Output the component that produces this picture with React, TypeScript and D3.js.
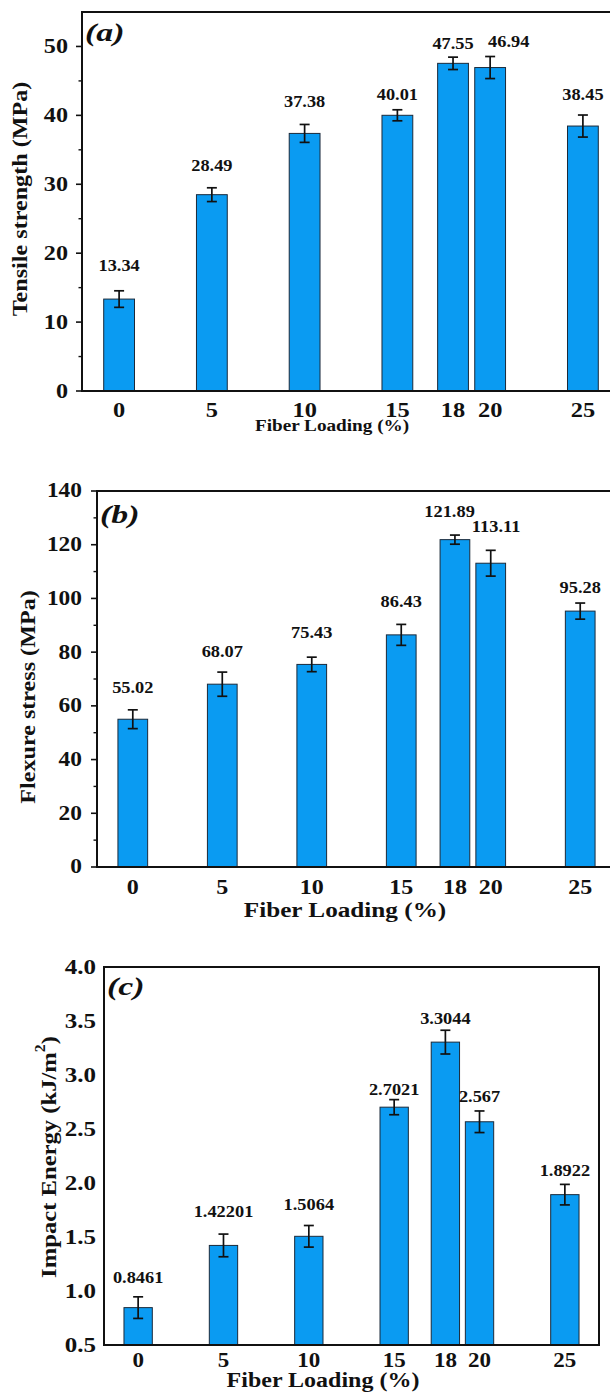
import React from 'react';
import * as d3 from 'd3';

// ---------- data ----------
const fiberLoading = [0, 5, 10, 15, 18, 20, 25];
const xTickLabels = ['0', '5', '10', '15', '18', '20', '25'];

const tensile = [13.34, 28.49, 37.38, 40.01, 47.55, 46.94, 38.45];
const tensileErr = [1.2, 1.0, 1.3, 0.8, 0.9, 1.6, 1.6];
const tensileLabels = ['13.34', '28.49', '37.38', '40.01', '47.55', '46.94', '38.45'];
const tensileLabelAt = [18.3, 32.8, 42.0, 43.0, 50.4, 50.8, 43.0];
const tensileLabelShift = [0, 0, 0, 0, 0, 1.0, 0];
const tensileTicks = [0, 10, 20, 30, 40, 50];
const tensileMinor = [5, 15, 25, 35, 45];

const flexure = [55.02, 68.07, 75.43, 86.43, 121.89, 113.11, 95.28];
const flexureErr = [3.5, 4.5, 2.7, 3.9, 1.7, 4.8, 3.0];
const flexureLabels = ['55.02', '68.07', '75.43', '86.43', '121.89', '113.11', '95.28'];
const flexureLabelAt = [66.8, 80.2, 87.3, 98.9, 132.5, 126.9, 104.0];
const flexureLabelShift = [0, 0, 0, 0, -0.3, 0.3, 0];
const flexureTicks = [0, 20, 40, 60, 80, 100, 120, 140];
const flexureMinor = [10, 30, 50, 70, 90, 110, 130];

const impact = [0.8461, 1.42201, 1.5064, 2.7021, 3.3044, 2.567, 1.8922];
const impactErr = [0.1, 0.105, 0.1, 0.07, 0.11, 0.1, 0.095];
const impactLabels = ['0.8461', '1.42201', '1.5064', '2.7021', '3.3044', '2.567', '1.8922'];
const impactLabelAt = [1.13, 1.74, 1.8, 2.87, 3.53, 2.8, 2.12];
const impactLabelShift = [0, 0, 0, 0, 0, 0, 0];
const impactTicks = [0.5, 1.0, 1.5, 2.0, 2.5, 3.0, 3.5, 4.0];
const impactMinor: number[] = [];

const FONT = '"Liberation Serif", "Times New Roman", serif';
const BAR = '#0A9BF2';

type STextProps = {
  x: number;
  y: number;
  size: number;
  sx?: number;
  rot?: number;
  anchor?: 'start' | 'middle' | 'end';
  italic?: boolean;
  children: React.ReactNode;
};

function SText({ x, y, size, sx = 1, rot = 0, anchor = 'middle', italic = false, children }: STextProps) {
  return (
    <text
      transform={`translate(${x},${y}) rotate(${rot}) scale(${sx},1)`}
      textAnchor={anchor}
      dominantBaseline="central"
      fontSize={size}
      fontStyle={italic ? 'italic' : 'normal'}
      fill="#111"
    >
      {children}
    </text>
  );
}

type PanelProps = {
  values: number[];
  errs: number[];
  labels: string[];
  labelAt: number[];
  labelShift: number[];
  yDomain: [number, number];
  yTicks: number[];
  yMinor: number[];
  tickFmt: (v: number) => string;
  left: number;
  right: number;
  top: number;
  bottom: number;
  letter: string;
  letterDy: number;
  yTitle: React.ReactNode;
  yTitleX: number;
  yTitleY: number;
  yTitleSize: number;
  yTitleSx: number;
  xTitleX: number;
  xTitleY: number;
  xTitleSize: number;
  xTickY: number;
  yTickSize: number;
  yTickSx: number;
  yTickGap: number;
  xTickSize: number;
  xTickSx: number;
  showTicks: boolean;
  fullBox: boolean;
};

function Panel(p: PanelProps) {
  const x = d3.scaleLinear().domain([-2, 27]).range([p.left, p.right]);
  const y = d3.scaleLinear().domain(p.yDomain).range([p.bottom, p.top]);
  const bw = x(1.66) - x(0);
  const cap = 5;
  return (
    <g fontFamily={FONT} fontWeight="bold">
      {fiberLoading.map((f, i) => (
        <rect
          key={'b' + i}
          x={x(f) - bw / 2}
          y={y(p.values[i])}
          width={bw}
          height={y(p.yDomain[0]) - y(p.values[i])}
          fill={BAR}
          stroke="#1b2a3a"
          strokeWidth={1}
        />
      ))}
      {fiberLoading.map((f, i) => {
        const cx = x(f);
        const t = y(p.values[i] + p.errs[i]);
        const b = y(p.values[i] - p.errs[i]);
        return (
          <g key={'e' + i} stroke="#111" strokeWidth={1.7}>
            <line x1={cx} x2={cx} y1={t} y2={b} />
            <line x1={cx - cap} x2={cx + cap} y1={t} y2={t} />
            <line x1={cx - cap} x2={cx + cap} y1={b} y2={b} />
          </g>
        );
      })}
      {fiberLoading.map((f, i) => (
        <SText key={'l' + i} x={x(f + p.labelShift[i])} y={y(p.labelAt[i])} size={17} sx={1.08}>
          {p.labels[i]}
        </SText>
      ))}
      {p.fullBox ? (
        <rect x={p.left} y={p.top} width={p.right - p.left} height={p.bottom - p.top} fill="none" stroke="#111" strokeWidth={2} />
      ) : (
        <path d={`M${p.right},${p.top}H${p.left}V${p.bottom}H${p.right}`} fill="none" stroke="#111" strokeWidth={2} />
      )}
      {p.showTicks &&
        p.yTicks.map((t) => (
          <line key={'t' + t} x1={p.left - 6} x2={p.left} y1={y(t)} y2={y(t)} stroke="#111" strokeWidth={1.6} />
        ))}
      {p.showTicks &&
        p.yMinor.map((t) => (
          <line key={'m' + t} x1={p.left - 3.5} x2={p.left} y1={y(t)} y2={y(t)} stroke="#111" strokeWidth={1.4} />
        ))}
      {p.yTicks.map((t) => (
        <SText key={'tl' + t} x={p.left - p.yTickGap} y={y(t)} size={p.yTickSize} sx={p.yTickSx} anchor="end">
          {p.tickFmt(t)}
        </SText>
      ))}
      {fiberLoading.map((f, i) => (
        <SText key={'xt' + i} x={x(f)} y={p.xTickY} size={p.xTickSize} sx={p.xTickSx}>
          {xTickLabels[i]}
        </SText>
      ))}
      <SText x={p.xTitleX} y={p.xTitleY} size={p.xTitleSize} sx={1.2}>
        Fiber Loading (%)
      </SText>
      <SText x={p.yTitleX} y={p.yTitleY} size={p.yTitleSize} sx={p.yTitleSx} rot={-90}>
        {p.yTitle}
      </SText>
      <SText x={p.left + 3} y={p.top + p.letterDy} size={26} sx={1.3} anchor="start" italic>
        {p.letter}
      </SText>
    </g>
  );
}

export default function App() {
  return (
    <svg width={610} height={1392} style={{ position: 'absolute', left: 0, top: 0, background: '#fff' }}>
      <rect x={0} y={0} width={610} height={1392} fill="#fff" />
      <Panel
        values={tensile}
        errs={tensileErr}
        labels={tensileLabels}
        labelAt={tensileLabelAt}
        labelShift={tensileLabelShift}
        yDomain={[0, 55]}
        yTicks={tensileTicks}
        yMinor={tensileMinor}
        tickFmt={(v) => String(v)}
        left={82}
        right={620}
        top={12}
        bottom={391}
        letter="(a)"
        letterDy={20}
        yTitle="Tensile strength (MPa)"
        yTitleX={20}
        yTitleY={199}
        yTitleSize={21}
        yTitleSx={1.15}
        xTitleX={332}
        xTitleY={426}
        xTitleSize={16}
        xTickY={410}
        yTickSize={21}
        yTickSx={1.15}
        yTickGap={14}
        xTickSize={20}
        xTickSx={1.22}
        showTicks={true}
        fullBox={false}
      />
      <Panel
        values={flexure}
        errs={flexureErr}
        labels={flexureLabels}
        labelAt={flexureLabelAt}
        labelShift={flexureLabelShift}
        yDomain={[0, 140]}
        yTicks={flexureTicks}
        yMinor={flexureMinor}
        tickFmt={(v) => String(v)}
        left={97}
        right={616}
        top={491}
        bottom={867}
        letter="(b)"
        letterDy={23}
        yTitle="Flexure stress (MPa)"
        yTitleX={28}
        yTitleY={697}
        yTitleSize={21}
        yTitleSx={1.15}
        xTitleX={345}
        xTitleY={910}
        xTitleSize={21}
        xTickY={887}
        yTickSize={20}
        yTickSx={1.17}
        yTickGap={15}
        xTickSize={20}
        xTickSx={1.2}
        showTicks={true}
        fullBox={false}
      />
      <Panel
        values={impact}
        errs={impactErr}
        labels={impactLabels}
        labelAt={impactLabelAt}
        labelShift={impactLabelShift}
        yDomain={[0.5, 4.0]}
        yTicks={impactTicks}
        yMinor={impactMinor}
        tickFmt={(v) => v.toFixed(1)}
        left={104}
        right={599}
        top={967}
        bottom={1345}
        letter="(c)"
        letterDy={19}
        yTitle={
          <>
            Impact Energy (kJ/m
            <tspan dy={-8} fontSize={14}>2</tspan>
            <tspan dy={8}>)</tspan>
          </>
        }
        yTitleX={48}
        yTitleY={1157}
        yTitleSize={22}
        yTitleSx={1.12}
        xTitleX={323}
        xTitleY={1380}
        xTitleSize={20}
        xTickY={1361}
        yTickSize={20}
        yTickSx={1.25}
        yTickGap={8}
        xTickSize={20}
        xTickSx={1.15}
        showTicks={false}
        fullBox={true}
      />
    </svg>
  );
}
